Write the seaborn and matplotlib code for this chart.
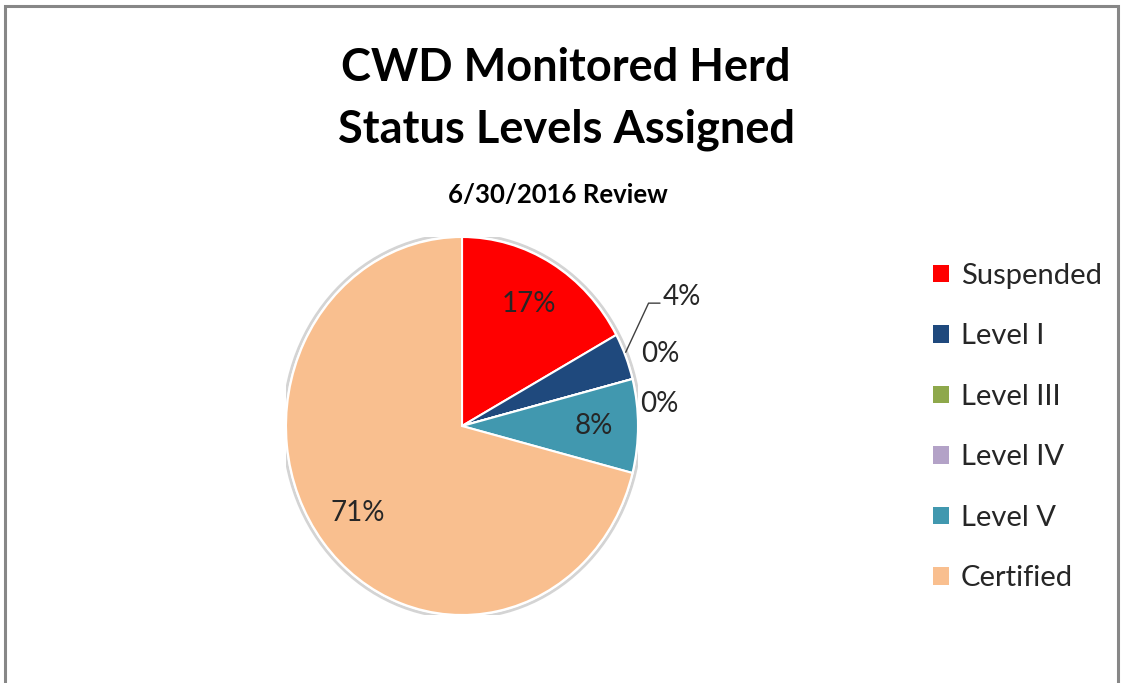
import matplotlib
matplotlib.use("Agg")
import matplotlib.pyplot as plt
import matplotlib.patches as mpatches
import seaborn as sns

# data
categories = ["Suspended", "Level I", "Level III", "Level IV", "Level V", "Certified"]
shares = [17, 4, 0, 0, 8, 71]
colors = ["#FF0000", "#1F497D", "#8EA84B", "#B3A2C7", "#4198AF", "#F9BF8F"]

sns.set_theme(style="white")
plt.rcParams["font.family"] = ["Lato", "DejaVu Sans"]

fig = plt.figure(figsize=(11.23, 6.83), dpi=100)

# pie axes: centre ~ (462, 426) px, slightly squashed horizontally like the source image
W, H = 1123, 683
cx, cy, rx, ry = 462, 426, 176, 189
ax = fig.add_axes([(cx - rx) / W, (H - cy - ry) / H, 2 * rx / W, 2 * ry / H])
ax.add_patch(mpatches.Ellipse((0, 0), 2.03, 2.03, facecolor="none",
                              edgecolor="#d4d4d4", lw=2, zorder=0))
wedges, texts, autotexts = ax.pie(
    shares, colors=colors, startangle=90, counterclock=False,
    autopct=lambda p: f"{p:.0f}%", pctdistance=0.75,
    wedgeprops=dict(edgecolor="white", linewidth=1.5),
    textprops=dict(fontsize=20, color="#262626"),
)
ax.set_xlim(-1, 1)
ax.set_ylim(-1, 1)
ax.set_aspect("auto")
ax.axis("off")

# small slices: labels outside, first one with a leader line
outside = {1: (1.14, 0.685), 2: (1.02, 0.38), 3: (1.01, 0.115)}
for i, (x, y) in outside.items():
    autotexts[i].set_position((x, y))
    autotexts[i].set_ha("left")
    autotexts[i].set_va("center")
    autotexts[i].set_clip_on(False)
ax.plot([0.93, 1.06, 1.125], [0.39, 0.65, 0.65], color="#404040", lw=1, clip_on=False)

# titles
fig.text(566 / W, 1 - 68 / H, "CWD Monitored Herd", ha="center", va="center",
         fontsize=32.5, fontweight="bold", color="black")
fig.text(566 / W, 1 - 130 / H, "Status Levels Assigned", ha="center", va="center",
         fontsize=32.5, fontweight="bold", color="black")
fig.text(558 / W, 1 - 195 / H, "6/30/2016 Review", ha="center", va="center",
         fontsize=18.5, fontweight="bold", color="black")

# legend
handles = [mpatches.Patch(facecolor=c, edgecolor="none", label=l) for c, l in zip(colors, categories)]
fig.legend(handles=handles, loc="center left", bbox_to_anchor=(907 / W, 1 - 427 / H),
           frameon=False, fontsize=21, handlelength=0.55, handleheight=0.55,
           handletextpad=0.4, labelspacing=1.18, labelcolor="#262626")

# outer chart border
fig.add_artist(mpatches.Rectangle((5 / W, -0.05), 1113 / W, 1.05 - 6 / H,
                                  transform=fig.transFigure, fill=False,
                                  edgecolor="#878787", linewidth=2.2))

fig.savefig("out.png", dpi=100)
